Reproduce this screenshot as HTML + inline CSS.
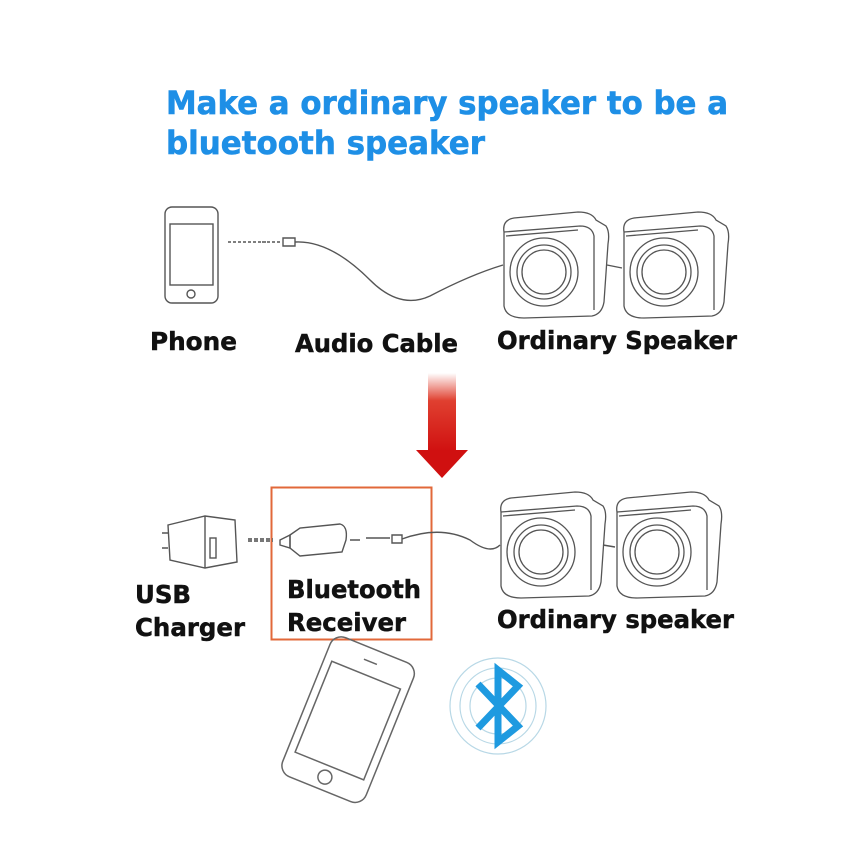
<!DOCTYPE html>
<html><head><meta charset="utf-8"><style>
body{margin:0;background:#fff}
svg{display:block}
.t{font-family:"DejaVu Sans","Liberation Sans",sans-serif;font-weight:bold}
</style></head><body>
<svg width="860" height="860" viewBox="0 0 860 860" xmlns="http://www.w3.org/2000/svg">
<defs>
<linearGradient id="ar" x1="0" y1="0" x2="0" y2="1">
<stop offset="0" stop-color="#fff"/><stop offset="0.35" stop-color="#e04030"/><stop offset="1" stop-color="#d01010"/>
</linearGradient>
<g id="spk" fill="none" stroke="#555" stroke-width="1.3">
<path d="M4 22 Q2 10 14 8 L78 2 Q92 2 96 10 L106 16 Q110 22 108 34 L104 92 Q102 104 92 106 L24 108 Q6 108 4 96 Z"/>
<path d="M4 22 L80 16 Q92 16 94 26 L94 100"/>
<path d="M6 26 L78 20"/>
<circle cx="44" cy="62" r="34"/><circle cx="44" cy="62" r="27"/><circle cx="44" cy="62" r="22"/>
</g>
</defs>
<text class="t" x="166" y="114" font-size="32" fill="#1e8fe6" stroke="#1e8fe6" stroke-width="0.6" textLength="562" lengthAdjust="spacingAndGlyphs">Make a ordinary speaker to be a</text>
<text class="t" x="166" y="154" font-size="32" fill="#1e8fe6" stroke="#1e8fe6" stroke-width="0.6" textLength="319" lengthAdjust="spacingAndGlyphs">bluetooth speaker</text>

<g fill="none" stroke="#555" stroke-width="1.4">
<rect x="165" y="207" width="53" height="96" rx="7"/>
<rect x="170" y="224" width="43" height="61"/>
<circle cx="191" cy="294" r="4"/>
<path d="M228 242 h40 M262 242 h20" stroke-dasharray="3 2"/>
<path d="M283 238 h12 v8 h-12z"/>
<path d="M295 242 Q330 240 370 280 Q400 310 430 296 Q470 275 503 265 M607 265 L622 268"/>
</g>
<use href="#spk" x="500" y="210"/>
<use href="#spk" x="620" y="210"/>
<g fill="#111" stroke="#111" stroke-width="0.5">
<text class="t" x="150" y="350" font-size="25" textLength="87" lengthAdjust="spacingAndGlyphs">Phone</text>
<text class="t" x="295" y="352" font-size="25" textLength="163" lengthAdjust="spacingAndGlyphs">Audio Cable</text>
<text class="t" x="497" y="349" font-size="25" textLength="240" lengthAdjust="spacingAndGlyphs">Ordinary Speaker</text>
<text class="t" x="135" y="603" font-size="25" textLength="56" lengthAdjust="spacingAndGlyphs">USB</text>
<text class="t" x="135" y="636" font-size="25" textLength="110" lengthAdjust="spacingAndGlyphs">Charger</text>
<text class="t" x="287" y="598" font-size="25" textLength="134" lengthAdjust="spacingAndGlyphs">Bluetooth</text>
<text class="t" x="287" y="631" font-size="25" textLength="119" lengthAdjust="spacingAndGlyphs">Receiver</text>
<text class="t" x="497" y="628" font-size="25" textLength="237" lengthAdjust="spacingAndGlyphs">Ordinary speaker</text>
</g>

<rect x="428" y="373" width="28" height="79" fill="url(#ar)"/>
<polygon points="416,450 468,450 442,478" fill="#d01010"/>

<rect x="271.5" y="487.5" width="160" height="152" fill="none" stroke="#e2683a" stroke-width="2"/>
<g fill="none" stroke="#555" stroke-width="1.4">
<path d="M168 525 L205 516 L235 520 L237 562 L205 568 L170 560 Z M205 516 L205 568"/>
<rect x="210" y="538" width="6" height="20"/>
<path d="M168 533 h-6 M168 548 h-6"/>
<path d="M248 540 h25" stroke="#777" stroke-width="4" stroke-dasharray="4 2"/>
<path d="M290 535 L300 528 L340 524 Q348 526 346 540 L342 552 L300 556 L290 548 Z"/>
<path d="M280 540 L290 535 L290 548 L280 545 Z"/>
<path d="M350 540 h10 M366 538 h24 M392 535 h10 v8 h-10z"/>
<path d="M402 539 Q440 525 470 540 Q490 555 500 545 M603 545 L615 547"/>
</g>
<use href="#spk" x="497" y="490"/>
<use href="#spk" x="613" y="490"/>

<g transform="rotate(22 350 715)" fill="none" stroke="#666" stroke-width="1.5">
<rect x="305" y="645" width="90" height="150" rx="12"/>
<rect x="313" y="672" width="74" height="98"/>
<circle cx="350" cy="782" r="7"/>
<path d="M342 658 h14"/>
</g>
<g fill="none" stroke="#b8d8e6" stroke-width="1.2">
<circle cx="498" cy="706" r="28"/><circle cx="498" cy="706" r="38"/><circle cx="498" cy="706" r="48"/>
</g>
<path d="M478 684 L518 726 L498 742 L498 670 L518 686 L478 728" fill="none" stroke="#1e9ae0" stroke-width="7" stroke-linejoin="miter"/>
</svg>
</body></html>
